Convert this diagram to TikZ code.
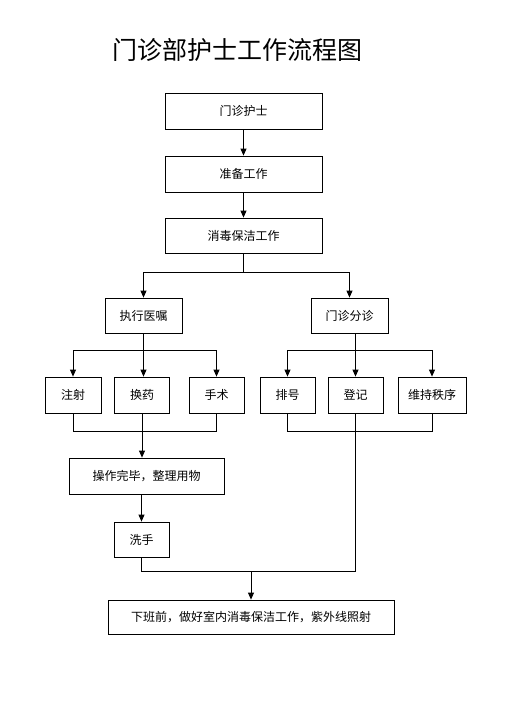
\documentclass[tikz,border=0pt]{standalone}
\usepackage{fontspec}
\setmainfont{Noto Sans CJK SC}
\usetikzlibrary{arrows.meta,positioning,calc}

\begin{document}
\begin{tikzpicture}[x=1pt,y=-1pt,
  box/.style={draw, line width=0.8pt, inner sep=0pt, minimum height=36pt,
    font=\fontsize{12}{14}\selectfont},
  arr/.style={-{Triangle[length=7pt,width=6pt]}, line width=0.8pt},
  link/.style={line width=0.8pt}]
  \useasboundingbox (0,0) rectangle (511,706);
  \node[font=\fontsize{25}{30}\selectfont] (title) at (237,50) {门诊部护士工作流程图};

  % main column
  \node[box, minimum width=157pt] (nurse) at (243.5,111) {门诊护士};
  \node[box, minimum width=157pt] (prep)  at (243.5,174) {准备工作};
  \node[box, minimum width=157pt, minimum height=35pt] (clean) at (243.5,235.5) {消毒保洁工作};
  \node[box, minimum width=77pt, minimum height=35pt] (exec)   at (143.5,315.5) {执行医嘱};
  \node[box, minimum width=77pt, minimum height=35pt] (triage) at (349.5,315.5) {门诊分诊};

  % task row
  \foreach \n/\x/\w/\t in {inj/73/56/注射, dress/142/55/换药, surg/216.5/55/手术,
      queue/287.5/55/排号, reg/355.5/55/登记, order/432/68/维持秩序}
    \node[box, minimum width=\w pt] (\n) at (\x,395) {\t};

  \node[box, minimum width=155pt] (tidy) at (146.5,476) {操作完毕，整理用物};
  \node[box, minimum width=55pt, minimum height=35pt] (wash) at (141.5,539.5) {洗手};
  \node[box, minimum width=286pt, minimum height=34pt] (off) at (251,617) {下班前，做好室内消毒保洁工作，紫外线照射};

  % connectors
  \draw[arr] (nurse) -- (prep);
  \draw[arr] (prep) -- (clean);
  \draw[arr] (clean.south) -- ++(0,18.5) coordinate (s1) -| (exec.north);
  \draw[arr] (s1) -| (triage.north);

  \draw[arr] (exec.south) -- ++(0,17) coordinate (s2) -| (inj.north);
  \draw[arr] (s2) -| (surg.north);
  \draw[arr] (exec.south) -- (exec.south |- dress.north);
  \draw[arr] (triage.south -| reg.north) -- ++(0,17) coordinate (s3) -| (queue.north);
  \draw[arr] (s3) -| (order.north);
  \draw[arr] (s3) -- (reg.north);

  \draw[link] (inj.south) -- ++(0,18) -| (surg.south);
  \draw[arr] (dress.south) -- (dress.south |- tidy.north);
  \draw[link] (queue.south) -- ++(0,18) -| (order.south);
  \draw[arr] (wash.north |- tidy.south) -- (wash.north);
  \draw[link] (wash.south) -- ++(0,14) coordinate (m) -| (reg.south);
  \draw[arr] (m -| off.north) -- (off.north);
\end{tikzpicture}
\end{document}
